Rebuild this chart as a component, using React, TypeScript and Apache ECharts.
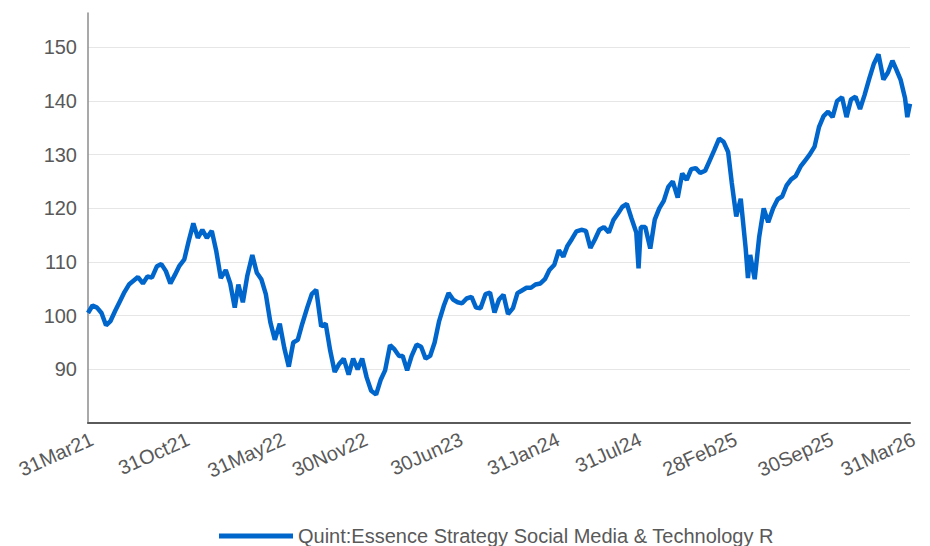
import React, { useEffect, useRef } from 'react';
import * as echarts from 'echarts';

const seriesName = 'Quint:Essence Strategy Social Media & Technology R';

const dates2021 = [
  '2021-03-31', '2021-04-10', '2021-04-20', '2021-04-30', '2021-05-10', '2021-05-20', '2021-05-31',
  '2021-06-10', '2021-06-20', '2021-06-30', '2021-07-10', '2021-07-20', '2021-07-31',
  '2021-08-10', '2021-08-20', '2021-08-31', '2021-09-10', '2021-09-20', '2021-09-30',
  '2021-10-10', '2021-10-20', '2021-10-31', '2021-11-10', '2021-11-20', '2021-11-30',
  '2021-12-10', '2021-12-20', '2021-12-31',
];
const values2021 = [
  100.5, 101.9, 101.5, 100.5, 98.2, 99.0, 101.0,
  102.7, 104.4, 105.8, 106.5, 107.2, 106.0,
  107.3, 107.1, 109.2, 109.6, 108.3, 106.0,
  107.6, 109.3, 110.5, 114.0, 117.2, 114.5,
  116.0, 114.5, 115.8,
];

const dates2022 = [
  '2022-01-10', '2022-01-20', '2022-01-31', '2022-02-10', '2022-02-20', '2022-02-28',
  '2022-03-10', '2022-03-20', '2022-03-31', '2022-04-10', '2022-04-20', '2022-04-30',
  '2022-05-10', '2022-05-20', '2022-05-31', '2022-06-10', '2022-06-20', '2022-06-30',
  '2022-07-10', '2022-07-20', '2022-07-31', '2022-08-10', '2022-08-20', '2022-08-31',
  '2022-09-10', '2022-09-20', '2022-09-30', '2022-10-10', '2022-10-20', '2022-10-31',
  '2022-11-10', '2022-11-20', '2022-11-30', '2022-12-10', '2022-12-20', '2022-12-31',
];
const values2022 = [
  112.0, 107.0, 108.5, 106.0, 101.5, 105.8,
  102.5, 107.5, 111.3, 108.0, 106.8, 104.0,
  98.8, 95.5, 98.5, 94.0, 90.5, 95.0,
  95.5, 98.5, 101.5, 104.0, 104.8, 98.0,
  98.5, 93.5, 89.5, 91.0, 92.0, 89.0,
  92.0, 90.0, 92.0, 88.5, 86.0, 85.3,
];

const dates2023 = [
  '2023-01-10', '2023-01-20', '2023-01-31', '2023-02-10', '2023-02-20', '2023-02-28',
  '2023-03-10', '2023-03-20', '2023-03-31', '2023-04-10', '2023-04-20', '2023-04-30',
  '2023-05-10', '2023-05-20', '2023-05-31', '2023-06-10', '2023-06-20', '2023-06-30',
  '2023-07-10', '2023-07-20', '2023-07-31', '2023-08-10', '2023-08-20', '2023-08-31',
  '2023-09-10', '2023-09-20', '2023-09-30', '2023-10-10', '2023-10-20', '2023-10-31',
  '2023-11-10', '2023-11-20', '2023-11-30', '2023-12-10', '2023-12-20', '2023-12-31',
];
const values2023 = [
  88.0, 89.8, 94.5, 93.7, 92.5, 92.5,
  89.8, 92.5, 94.6, 94.2, 92.0, 92.5,
  95.0, 99.0, 102.0, 104.2, 103.0, 102.5,
  102.3, 103.2, 103.5, 101.5, 101.4, 104.0,
  104.3, 100.6, 103.0, 103.9, 100.3, 101.4,
  104.2, 104.7, 105.2, 105.2, 105.8, 106.0,
];

const dates2024 = [
  '2024-01-10', '2024-01-20', '2024-01-31', '2024-02-10', '2024-02-20', '2024-02-29',
  '2024-03-10', '2024-03-20', '2024-03-31', '2024-04-10', '2024-04-20', '2024-04-30',
  '2024-05-10', '2024-05-20', '2024-05-31', '2024-06-10', '2024-06-20', '2024-06-30',
  '2024-07-10', '2024-07-20', '2024-07-31', '2024-08-05', '2024-08-10', '2024-08-20', '2024-08-31',
  '2024-09-10', '2024-09-20', '2024-09-30', '2024-10-10', '2024-10-20', '2024-10-31',
  '2024-11-10', '2024-11-20', '2024-11-30', '2024-12-10', '2024-12-20', '2024-12-31',
];
const values2024 = [
  106.8, 108.5, 109.5, 112.2, 111.0, 113.0,
  114.3, 115.7, 116.0, 115.8, 112.6, 114.2,
  116.0, 116.5, 115.5, 117.8, 119.0, 120.3,
  120.8, 118.2, 115.5, 108.8, 116.5, 116.5, 112.5,
  117.9, 120.0, 121.4, 124.0, 125.0, 122.0,
  126.5, 125.3, 127.3, 127.5, 126.6, 127.0,
];

const dates2025 = [
  '2025-01-10', '2025-01-20', '2025-01-31', '2025-02-10', '2025-02-20', '2025-02-28',
  '2025-03-10', '2025-03-20', '2025-03-31', '2025-04-05', '2025-04-10', '2025-04-20', '2025-04-30',
  '2025-05-10', '2025-05-20', '2025-05-31', '2025-06-10', '2025-06-20', '2025-06-30',
  '2025-07-10', '2025-07-20', '2025-07-31', '2025-08-10', '2025-08-20', '2025-08-31',
  '2025-09-10', '2025-09-20', '2025-09-30', '2025-10-10', '2025-10-20', '2025-10-31',
  '2025-11-10', '2025-11-20', '2025-11-30', '2025-12-10', '2025-12-20', '2025-12-31',
];
const values2025 = [
  128.9, 130.8, 133.0, 132.4, 130.5, 124.8,
  118.5, 121.8, 112.5, 107.0, 111.3, 106.8, 114.7,
  120.0, 117.4, 120.0, 121.7, 122.2, 124.3,
  125.4, 126.0, 127.8, 128.9, 130.0, 131.5,
  135.2, 137.2, 138.0, 137.0, 140.0, 140.7,
  137.0, 140.3, 140.8, 138.5, 141.1, 144.3,
];

const dates2026 = [
  '2026-01-10', '2026-01-20', '2026-01-31', '2026-02-10', '2026-02-20', '2026-02-28',
  '2026-03-10', '2026-03-20', '2026-03-25', '2026-03-31',
];
const values2026 = [
  147.0, 148.7, 144.0, 145.3, 147.5, 146.0,
  144.0, 140.5, 137.0, 139.5,
];

const xLabelDates = [
  '2021-03-31', '2021-10-31', '2022-05-31', '2022-11-30', '2023-06-30',
  '2024-01-31', '2024-07-31', '2025-02-28', '2025-09-30', '2026-03-31',
];
const xLabelTexts = [
  '31Mar21', '31Oct21', '31May22', '30Nov22', '30Jun23',
  '31Jan24', '31Jul24', '28Feb25', '30Sep25', '31Mar26',
];

const yMin = 80;
const yMax = 156.4;
const yStep = 10;

// day number since the first date (so the x axis is proportional to calendar time)
function dayOf(s: string): number {
  const [y, m, d] = s.split('-').map(Number);
  const [y0, m0, d0] = dates2021[0].split('-').map(Number);
  return Math.round((Date.UTC(y, m - 1, d) - Date.UTC(y0, m0 - 1, d0)) / 86400000);
}

const allDates = [...dates2021, ...dates2022, ...dates2023, ...dates2024, ...dates2025, ...dates2026];
const allValues = [...values2021, ...values2022, ...values2023, ...values2024, ...values2025, ...values2026];

export default function App() {
  const ref = useRef<HTMLDivElement>(null);
  useEffect(() => {
    if (!ref.current) return;
    const chart = echarts.init(ref.current, undefined, { renderer: 'svg' });
    const labelDays = xLabelDates.map(dayOf);
    const font = "'Liberation Sans', Arial, sans-serif";
    chart.setOption({
      animation: false,
      textStyle: { fontFamily: font },
      grid: { left: 88, right: 20, top: 13, bottom: 123, containLabel: false },
      xAxis: {
        type: 'value',
        min: dayOf(allDates[0]),
        max: dayOf(allDates[allDates.length - 1]),
        axisLine: { show: true, lineStyle: { color: '#5a5a5a', width: 2 } },
        axisTick: { show: false },
        splitLine: { show: false },
        axisLabel: {
          customValues: labelDays,
          formatter: (v: number) => {
            const i = labelDays.indexOf(v);
            return i >= 0 ? xLabelTexts[i] : '';
          },
          rotate: 24,
          fontSize: 20,
          color: '#595959',
          fontFamily: font,
          margin: 6,
          verticalAlign: 'top',
          showMinLabel: true,
          showMaxLabel: true,
          hideOverlap: false,
        },
      },
      yAxis: {
        type: 'value',
        min: yMin,
        max: yMax,
        interval: yStep,
        axisLine: { show: true, lineStyle: { color: '#8c8c8c', width: 1.5 } },
        axisTick: { show: false },
        splitLine: { show: true, showMaxLine: false, showMinLine: false, lineStyle: { color: '#e6e6e6', width: 1 } },
        axisLabel: {
          formatter: (v: number) => (v > yMin && v % yStep === 0 ? String(v) : ''),
          fontSize: 20,
          color: '#595959',
          fontFamily: font,
          margin: 11,
        },
      },
      legend: {
        left: 219,
        top: 526,
        padding: 0,
        icon: 'rect',
        itemWidth: 74,
        itemHeight: 5,
        textStyle: { fontSize: 20, color: '#595959', fontFamily: font },
        data: [seriesName],
      },
      series: [
        {
          type: 'line',
          name: seriesName,
          data: allDates.map((d, i) => [dayOf(d), allValues[i]]),
          showSymbol: false,
          symbol: 'none',
          lineStyle: { color: '#0066cc', width: 4.5 },
          itemStyle: { color: '#0066cc' },
        },
      ],
    });
    return () => chart.dispose();
  }, []);
  return <div ref={ref} style={{ position: 'absolute', left: 0, top: 0, width: 930, height: 546 }} />;
}
